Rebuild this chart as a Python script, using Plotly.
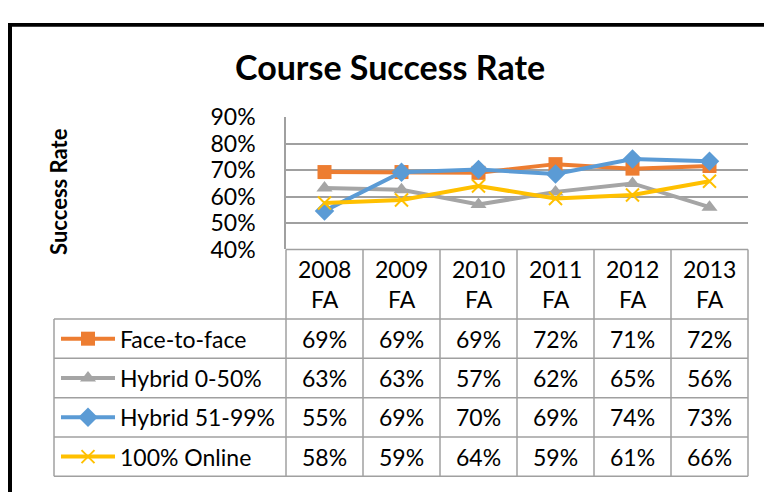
import plotly.graph_objects as go

categories = ["2008 FA", "2009 FA", "2010 FA", "2011 FA", "2012 FA", "2013 FA"]
header_labels = ["2008<br>FA", "2009<br>FA", "2010<br>FA", "2011<br>FA", "2012<br>FA", "2013<br>FA"]
face_to_face = [69.3, 69.3, 69.0, 72.3, 70.6, 71.6]
hybrid_0_50 = [63.3, 62.6, 57.0, 61.8, 65.0, 56.0]
hybrid_51_99 = [54.6, 69.2, 70.3, 68.6, 74.2, 73.4]
online_100 = [57.6, 58.7, 64.0, 59.3, 60.6, 65.8]
series_names = ["Face-to-face", "Hybrid 0-50%", "Hybrid 51-99%", "100% Online"]
series_values = [face_to_face, hybrid_0_50, hybrid_51_99, online_100]
y_ticks = [40, 50, 60, 70, 80, 90]

colors = ["#ED7D31", "#A5A5A5", "#5B9BD5", "#FFC000"]
symbols = ["square", "triangle-up", "diamond", "x-thin"]
msizes = [14, 14, 15, 13]

W, H = 772, 497
OFF = 8  # page body margin compensation
FONT = "Lato"
GRID = "#A0A0A0"
TXT = 23


def P(v):
    return v - OFF


px_left, px_right = P(286), P(748)
py_top, py_bottom = P(108), P(248)
table_left = P(54)
row_top = P(321.7)
row_h = 41.65
col_w = (px_right - px_left) / 6

fig = go.Figure()

for name, vals, c, s, ms in zip(series_names, series_values, colors, symbols, msizes):
    fig.add_trace(go.Scatter(
        x=categories, y=[v / 100 for v in vals], mode="lines+markers", name=name,
        line=dict(color=c, width=4),
        marker=dict(symbol=s, size=ms, color=c, line=dict(color=c, width=2 if s == "x-thin" else 0)),
        xaxis="x", yaxis="y", showlegend=False, cliponaxis=False,
    ))

for i, (name, c, s, ms) in enumerate(zip(series_names, colors, symbols, msizes)):
    yc = row_top + row_h * (i + 0.5)
    fig.add_trace(go.Scatter(
        x=[P(61), P(115)], y=[yc, yc], mode="lines", line=dict(color=c, width=4),
        xaxis="x2", yaxis="y2", showlegend=False, hoverinfo="skip"))
    fig.add_trace(go.Scatter(
        x=[P(88)], y=[yc], mode="markers",
        marker=dict(symbol=s, size=ms, color=c, line=dict(color=c, width=2 if s == "x-thin" else 0)),
        xaxis="x2", yaxis="y2", showlegend=False, hoverinfo="skip"))

shapes = []
shapes.append(dict(type="rect", xref="x2", yref="y2", x0=P(6), x1=P(12), y0=P(6), y1=H, fillcolor="black", line=dict(width=0), layer="above"))
shapes.append(dict(type="rect", xref="x2", yref="y2", x0=P(6), x1=W, y0=P(6), y1=P(12), fillcolor="black", line=dict(width=0), layer="above"))

line_style = dict(color=GRID, width=1.5)
shapes.append(dict(type="line", xref="x2", yref="y2", x0=px_left, x1=px_right, y0=py_bottom, y1=py_bottom, line=line_style))
for k in range(7):
    x = px_left + col_w * k
    shapes.append(dict(type="line", xref="x2", yref="y2", x0=x, x1=x, y0=py_bottom, y1=row_top + 4 * row_h, line=line_style))
for r in range(5):
    y = row_top + row_h * r
    shapes.append(dict(type="line", xref="x2", yref="y2", x0=table_left, x1=px_right, y0=y, y1=y, line=line_style))
shapes.append(dict(type="line", xref="x2", yref="y2", x0=table_left, x1=table_left, y0=row_top, y1=row_top + 4 * row_h, line=line_style))

annotations = []
annotations.append(dict(text="<b>Course Success Rate</b>", xref="x2", yref="y2", x=P(390), y=P(54), showarrow=False,
                        font=dict(family=FONT, size=34, color="black"), xanchor="center", yanchor="middle"))
annotations.append(dict(text="<b>Success Rate</b>", xref="x2", yref="y2", x=P(59), y=P(187), showarrow=False, textangle=-90,
                        font=dict(family=FONT, size=22, color="black"), xanchor="center", yanchor="middle"))
for k, lab in enumerate(header_labels):
    annotations.append(dict(text=lab, xref="x2", yref="y2", x=px_left + col_w * (k + 0.5), y=P(285), showarrow=False,
                            font=dict(family=FONT, size=TXT, color="black"), xanchor="center", yanchor="middle"))
for i, (name, vals) in enumerate(zip(series_names, series_values)):
    yc = row_top + row_h * (i + 0.5)
    annotations.append(dict(text=name, xref="x2", yref="y2", x=P(118), y=yc, showarrow=False,
                            font=dict(family=FONT, size=TXT, color="black"), xanchor="left", yanchor="middle"))
    for k, v in enumerate(vals):
        annotations.append(dict(text=f"{round(v)}%", xref="x2", yref="y2", x=px_left + col_w * (k + 0.5), y=yc,
                                showarrow=False, font=dict(family=FONT, size=TXT, color="black"),
                                xanchor="center", yanchor="middle"))

fig.update_layout(
    width=W, height=H, margin=dict(l=0, r=0, t=0, b=0),
    paper_bgcolor="white", plot_bgcolor="rgba(0,0,0,0)",
    xaxis=dict(domain=[px_left / W, px_right / W], range=[-0.5, 5.5], type="category",
               showticklabels=False, showgrid=False, zeroline=False, showline=False, ticks=""),
    yaxis=dict(domain=[1 - py_bottom / H, 1 - py_top / H], range=[0.4, 0.9],
               tickvals=[t / 100 for t in y_ticks], ticktext=[f"{t}%" for t in y_ticks],
               showgrid=True, gridcolor=GRID, gridwidth=1.5, zeroline=False,
               showline=True, linecolor=GRID, linewidth=1.5, ticks="",
               ticklabelstandoff=24, tickfont=dict(family=FONT, size=TXT, color="black")),
    xaxis2=dict(domain=[0, 1], range=[0, W], visible=False, anchor="y2"),
    yaxis2=dict(domain=[0, 1], range=[H, 0], visible=False, anchor="x2"),
    shapes=shapes, annotations=annotations,
)

fig.write_html("out.html")
